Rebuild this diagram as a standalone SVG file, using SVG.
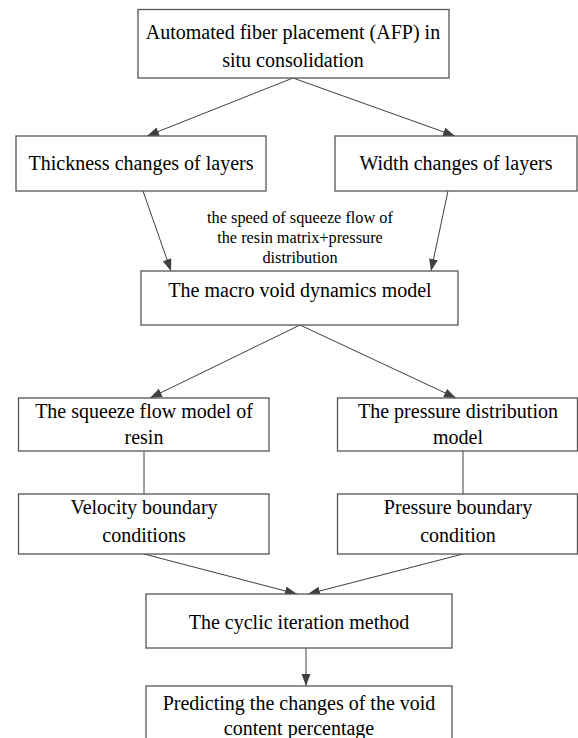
<svg xmlns="http://www.w3.org/2000/svg" width="578" height="738" viewBox="0 0 578 738">
<defs>
<marker id="ah" markerUnits="userSpaceOnUse" markerWidth="13" markerHeight="10" refX="12" refY="4.5" orient="auto">
<path d="M0,0 L12,4.5 L0,9 z" fill="#404040"/>
</marker>
<style>
.box{fill:#fff;stroke:#555;stroke-width:1.3}
.t{font-family:"Liberation Serif","Times New Roman",Tinos,"Noto Serif","DejaVu Serif",serif;font-size:20px;fill:#000;text-anchor:middle}
.s{font-family:"Liberation Serif","Times New Roman",Tinos,"Noto Serif","DejaVu Serif",serif;font-size:16.3px;fill:#000;text-anchor:middle}
.c{stroke:#404040;stroke-width:1;fill:none}
.a{marker-end:url(#ah)}
</style>
</defs>
<rect width="578" height="738" fill="#fff"/>
<g id="connectors">
<line class="c a" x1="293" y1="78" x2="147" y2="136"/>
<line class="c a" x1="293" y1="78" x2="455" y2="136"/>
<line class="c a" x1="143" y1="191" x2="171" y2="271"/>
<line class="c a" x1="448" y1="191" x2="431" y2="271"/>
<line class="c a" x1="300" y1="325" x2="150" y2="398"/>
<line class="c a" x1="300" y1="325" x2="456" y2="398"/>
<line class="c" x1="144" y1="451" x2="144" y2="494"/>
<line class="c" x1="463" y1="451" x2="463" y2="494"/>
<line class="c a" x1="144" y1="554" x2="297" y2="594"/>
<line class="c a" x1="463" y1="554" x2="308" y2="594"/>
<line class="c a" x1="306" y1="648" x2="306" y2="686"/>
<text class="s" x="300" y="223">the speed of squeeze flow of</text>
<text class="s" x="300" y="243">the resin matrix+pressure</text>
<text class="s" x="300" y="263">distribution</text>
</g>
<g id="afp">
<rect class="box" x="138" y="9.5" width="311" height="68.5"/>
<text class="t" x="293" y="39">Automated fiber placement (AFP) in</text>
<text class="t" x="293" y="67">situ consolidation</text>
</g>
<g id="thickness">
<rect class="box" x="16" y="136" width="250" height="55"/>
<text class="t" x="141" y="170">Thickness changes of layers</text>
</g>
<g id="width">
<rect class="box" x="335" y="136" width="242" height="55"/>
<text class="t" x="456" y="170">Width changes of layers</text>
</g>
<g id="macro">
<rect class="box" x="141" y="271" width="317" height="54"/>
<text class="t" x="300" y="297">The macro void dynamics model</text>
</g>
<g id="squeeze">
<rect class="box" x="18.5" y="398" width="250.5" height="53"/>
<text class="t" x="144" y="418">The squeeze flow model of</text>
<text class="t" x="144" y="444">resin</text>
</g>
<g id="pressure">
<rect class="box" x="337.5" y="398" width="240" height="53"/>
<text class="t" x="458" y="418">The pressure distribution</text>
<text class="t" x="458" y="444">model</text>
</g>
<g id="velocity">
<rect class="box" x="18.5" y="494" width="250.5" height="60"/>
<text class="t" x="144" y="514">Velocity boundary</text>
<text class="t" x="144" y="542">conditions</text>
</g>
<g id="pbc">
<rect class="box" x="337.5" y="494" width="240" height="60"/>
<text class="t" x="458" y="514">Pressure boundary</text>
<text class="t" x="458" y="542">condition</text>
</g>
<g id="cyclic">
<rect class="box" x="146" y="594" width="306" height="54"/>
<text class="t" x="299" y="629">The cyclic iteration method</text>
</g>
<g id="predict">
<rect class="box" x="146" y="686" width="306" height="60"/>
<text class="t" x="299" y="710">Predicting the changes of the void</text>
<text class="t" x="299" y="735">content percentage</text>
</g>
</svg>
